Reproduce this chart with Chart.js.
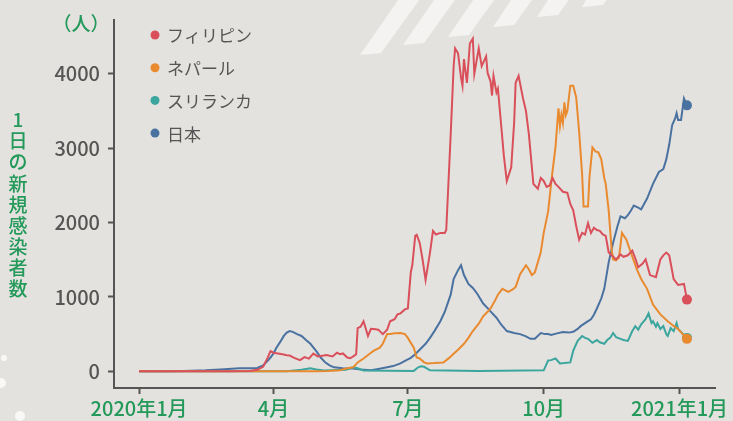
<!DOCTYPE html>
<html>
<head>
<meta charset="utf-8">
<script src="https://cdn.jsdelivr.net/npm/chart.js@4.4.1/dist/chart.umd.min.js"></script>
<style>
  html, body { margin: 0; padding: 0; background: #e4e2df; }
  #wrap { width: 733px; height: 421px; position: relative; }
</style>
</head>
<body>
<div id="wrap"><canvas id="lineChart" width="733" height="421"></canvas></div>
<script>
// days counted from 2020-01-01
const xTicks = [0, 91, 182, 274, 366];
const xTickLabels = ['2020年1月', '4月', '7月', '10月', '2021年1月'];
const yTicks = [0, 1000, 2000, 3000, 4000];
const seriesNames = ['フィリピン', 'ネパール', 'スリランカ', '日本'];
const yTitle = '1日の新規感染者数';
const unitLabel = '（人）';

const phDays = [0, 60, 75, 80, 84, 87, 89, 91, 94, 97, 100, 102, 105, 109, 112, 115, 118, 121, 125, 127, 131, 134, 136, 138, 141, 143, 145, 147, 148, 150, 152, 155, 157, 159, 162, 165, 168, 170, 173, 175, 177, 180, 182, 184, 185, 187, 188, 190, 192, 194, 197, 199, 201, 204, 207, 208, 211, 213, 214, 216, 218, 219, 220, 222, 224, 226, 227, 230, 232, 235, 236, 238, 239, 240, 242, 243, 245, 247, 249, 252, 254, 255, 257, 260, 262, 264, 267, 270, 272, 274, 276, 278, 280, 282, 284, 287, 290, 292, 294, 296, 298, 300, 302, 304, 306, 308, 310, 312, 314, 316, 318, 320, 323, 326, 328, 331, 334, 336, 338, 341, 343, 346, 350, 353, 355, 357, 359, 362, 365, 369, 371];
const phValues = [0, 0, 5, 20, 60, 180, 270, 250, 240, 230, 215, 211, 180, 150, 190, 170, 237, 200, 211, 220, 200, 250, 230, 240, 185, 175, 200, 230, 580, 600, 673, 475, 570, 567, 560, 500, 560, 673, 700, 765, 779, 832, 845, 1333, 1426, 1822, 1835, 1730, 1500, 1228, 1597, 1888, 1840, 1861, 1861, 1900, 3181, 4100, 4343, 4277, 3950, 3841, 4198, 3880, 4409, 4475, 4000, 4343, 4105, 4237, 4013, 3900, 3709, 3973, 3750, 3802, 3353, 2900, 2560, 2745, 3353, 3880, 3973, 3670, 3500, 3181, 2521, 2455, 2600, 2560, 2480, 2500, 2600, 2520, 2480, 2415, 2400, 2250, 2164, 1954, 1769, 1861, 1840, 1993, 1860, 1930, 1900, 1888, 1840, 1822, 1597, 1560, 1505, 1571, 1540, 1560, 1624, 1520, 1399, 1450, 1505, 1294, 1267, 1505, 1560, 1597, 1560, 1241, 1162, 1175, 964];

const npDays = [0, 120, 128, 136, 141, 145, 148, 152, 157, 159, 163, 165, 168, 170, 173, 177, 180, 182, 186, 188, 190, 193, 195, 200, 206, 210, 213, 216, 220, 223, 226, 230, 233, 236, 238, 241, 243, 246, 250, 253, 255, 258, 262, 264, 266, 268, 270, 272, 274, 277, 279, 280, 282, 284, 285, 286, 287, 288, 289, 290, 292, 294, 296, 298, 300, 301, 304, 305, 307, 309, 311, 313, 315, 316, 318, 320, 321, 323, 325, 327, 330, 333, 337, 340, 344, 348, 353, 358, 362, 365, 371];
const npValues = [0, 0, 3, 13, 40, 53, 119, 172, 250, 277, 317, 370, 500, 500, 510, 515, 500, 449, 317, 185, 172, 120, 106, 110, 119, 180, 237, 290, 370, 450, 541, 640, 739, 800, 845, 950, 1030, 1109, 1069, 1100, 1135, 1307, 1426, 1370, 1294, 1330, 1465, 1600, 1861, 2150, 2521, 2693, 3023, 3538, 3300, 3450, 3340, 3617, 3445, 3500, 3841, 3841, 3683, 3221, 2653, 2217, 2217, 2614, 3010, 2957, 2944, 2850, 2600, 2521, 2164, 1637, 1505, 1492, 1531, 1861, 1769, 1597, 1373, 1241, 1109, 898, 765, 673, 610, 568, 436];

const lkDays = [0, 100, 110, 116, 120, 125, 140, 145, 148, 152, 186, 189, 191, 193, 197, 230, 260, 274, 277, 279, 282, 285, 288, 292, 294, 297, 300, 302, 304, 307, 310, 312, 315, 317, 319, 321, 323, 326, 328, 331, 334, 336, 338, 340, 343, 345, 347, 348, 350, 351, 353, 355, 357, 358, 360, 362, 364, 365, 368, 371];
const lkValues = [0, 0, 20, 40, 25, 10, 20, 53, 40, 10, 5, 53, 66, 60, 13, 5, 10, 13, 145, 150, 172, 106, 110, 119, 277, 409, 475, 450, 436, 383, 420, 390, 370, 420, 449, 515, 460, 436, 420, 409, 541, 607, 560, 633, 700, 779, 650, 673, 600, 647, 568, 607, 500, 475, 580, 540, 647, 568, 510, 449];

const jpDays = [0, 20, 30, 45, 55, 68, 76, 80, 84, 87, 89, 91, 93, 96, 98, 100, 102, 104, 107, 110, 113, 116, 120, 123, 126, 129, 132, 138, 145, 150, 157, 162, 168, 172, 177, 181, 184, 187, 190, 194, 197, 200, 204, 207, 211, 213, 216, 218, 220, 223, 226, 229, 233, 236, 238, 242, 245, 249, 254, 258, 262, 265, 268, 272, 275, 277, 279, 283, 287, 291, 294, 297, 299, 303, 306, 308, 310, 313, 315, 318, 321, 324, 326, 329, 331, 333, 335, 338, 340, 344, 348, 352, 355, 357, 359, 361, 363, 364, 365, 367, 369, 371];
const jpValues = [0, 0, 5, 13, 25, 40, 40, 45, 79, 140, 185, 240, 317, 409, 475, 520, 541, 530, 500, 475, 420, 370, 270, 185, 120, 79, 53, 40, 38, 25, 13, 30, 53, 70, 106, 150, 180, 230, 290, 370, 449, 540, 673, 800, 1030, 1241, 1360, 1426, 1294, 1175, 1120, 1043, 911, 850, 805, 720, 633, 541, 515, 500, 470, 436, 438, 515, 500, 500, 488, 510, 528, 520, 532, 570, 607, 660, 700, 760, 845, 980, 1109, 1465, 1729, 1954, 2085, 2059, 2100, 2160, 2230, 2200, 2178, 2323, 2521, 2680, 2719, 2850, 3050, 3313, 3400, 3472, 3380, 3380, 3670, 3577];

const colors = ['#d9505b', '#e98a2f', '#3ba69e', '#4a72a1'];
const green = '#23995a';
const gray = '#555555';
const fontFamily = '"Noto Sans CJK JP", "Noto Sans", sans-serif';

const toPoints = (days, values) => days.map((d, i) => ({ x: d, y: values[i] }));
const seriesData = [
    toPoints(phDays, phValues),
    toPoints(npDays, npValues),
    toPoints(lkDays, lkValues),
    toPoints(jpDays, jpValues)
];

// paper background, stripes and the little white spots
const backdrop = {
    id: 'backdrop',
    beforeDraw(chart) {
        const ctx = chart.ctx;
        ctx.save();
        ctx.fillStyle = '#e4e2df';
        ctx.fillRect(0, 0, chart.width, chart.height);
        ctx.fillStyle = 'rgba(255,255,255,0.6)';
        [[360, 55], [403, 45], [448, 37], [493, 27], [537, 17], [582, 7]].forEach(([bx, by]) => {
            ctx.beginPath();
            ctx.moveTo(bx, by);
            ctx.lineTo(bx + 21, by - 2);
            ctx.lineTo(bx + 21 + by * 0.72, -2);
            ctx.lineTo(bx + by * 0.72, -2);
            ctx.closePath();
            ctx.fill();
        });
        ctx.fillStyle = 'rgba(255,255,255,0.75)';
        [[4, 358, 3], [1, 383, 5], [20, 416, 5]].forEach(([x, y, r]) => {
            ctx.beginPath();
            ctx.arc(x, y, r, 0, Math.PI * 2);
            ctx.fill();
        });
        ctx.restore();
    }
};

// legend in the top-left of the plot, y title written top-to-bottom, unit label
const decorations = {
    id: 'decorations',
    afterDraw(chart) {
        const ctx = chart.ctx;
        ctx.save();
        ctx.textBaseline = 'middle';
        ctx.font = '17px ' + fontFamily;
        chart.data.datasets.forEach((ds, i) => {
            const y = 35 + i * 32.7;
            ctx.fillStyle = ds.borderColor;
            ctx.beginPath();
            ctx.arc(155, y, 4.5, 0, Math.PI * 2);
            ctx.fill();
            ctx.fillStyle = gray;
            ctx.textAlign = 'left';
            ctx.fillText(ds.label, 167, y + 1);
        });
        ctx.fillStyle = green;
        ctx.textAlign = 'center';
        ctx.font = '500 19px ' + fontFamily;
        Array.from(yTitle).forEach((ch, i) => {
            ctx.fillText(ch, 18, 120 + i * 21.1);
        });
        ctx.fillText(unitLabel, 81, 24);
        ctx.restore();
    }
};

const ctx = document.getElementById('lineChart').getContext('2d');

new Chart(ctx, {
    type: 'line',
    data: {
        datasets: seriesNames.map((name, i) => ({
            label: name,
            data: seriesData[i],
            borderColor: colors[i],
            backgroundColor: colors[i],
            borderWidth: 2,
            tension: 0,
            pointRadius: (c) => c.dataIndex === c.dataset.data.length - 1 ? 5 : 0,
            pointBorderWidth: 0,
            pointBackgroundColor: colors[i],
            clip: false
        }))
    },
    options: {
        responsive: false,
        animation: false,
        layout: { padding: { top: 13, right: 18, left: 0, bottom: 0 } },
        plugins: {
            legend: { display: false },
            tooltip: { enabled: false }
        },
        scales: {
            x: {
                type: 'linear',
                min: -17,
                max: 390,
                afterBuildTicks: (scale) => { scale.ticks = xTicks.map(v => ({ value: v })); },
                afterFit: (scale) => { scale.height = 33; },
                grid: { drawOnChartArea: false, drawTicks: true, tickLength: 6, tickWidth: 2, tickColor: gray },
                border: { display: true, color: gray, width: 2 },
                ticks: {
                    color: green,
                    font: { family: fontFamily, size: 20, weight: '500' },
                    padding: 2,
                    maxRotation: 0,
                    autoSkip: false,
                    callback: (v) => xTickLabels[xTicks.indexOf(v)]
                }
            },
            y: {
                type: 'linear',
                min: -225,
                max: 4725,
                afterBuildTicks: (scale) => { scale.ticks = yTicks.map(v => ({ value: v })); },
                afterFit: (scale) => { scale.width = 114; },
                grid: { drawOnChartArea: false, drawTicks: true, tickLength: 6, tickWidth: 2, tickColor: gray },
                border: { display: true, color: gray, width: 2 },
                ticks: {
                    color: gray,
                    font: { family: fontFamily, size: 20, weight: '500' },
                    padding: 8,
                    callback: (v) => String(v)
                }
            }
        }
    },
    plugins: [backdrop, decorations]
});
</script>
</body>
</html>
